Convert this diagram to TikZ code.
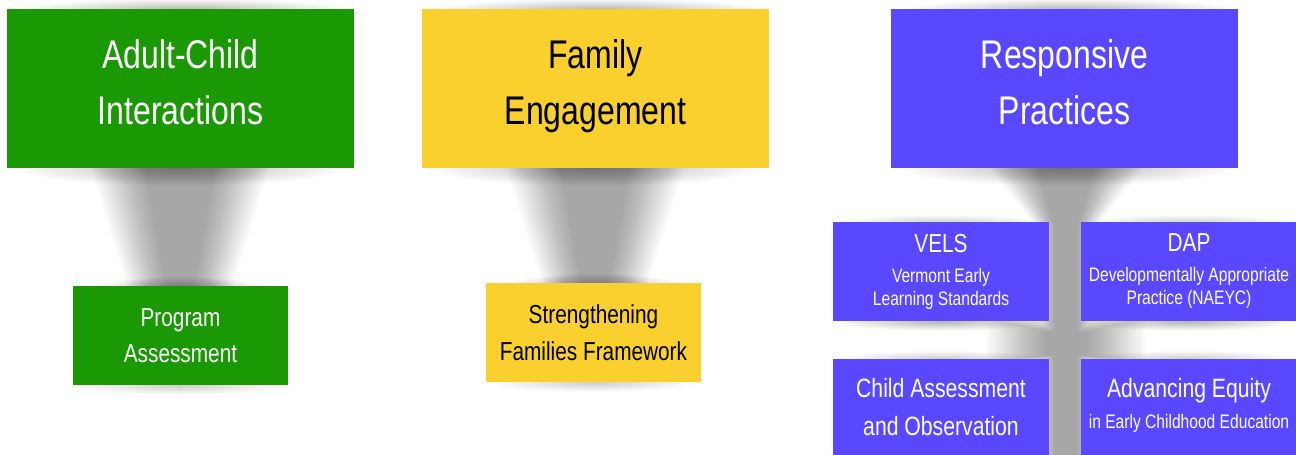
\documentclass[tikz,border=0pt]{standalone}
\usepackage{fontspec}
\newfontfamily\cf{Liberation Sans}[FakeStretch=0.8]
\definecolor{cgreen}{RGB}{26,153,4}
\definecolor{cyellow}{RGB}{249,208,46}
\definecolor{cblue}{RGB}{89,72,255}
% soft elliptical shadow: cx cy rx ry opacity-per-layer
\newcommand\shadell[5]{\foreach \k in {0,...,23}{\fill[black,opacity=#5] (#1,#2) ellipse [x radius={#3*(1-\k/24)*1pt}, y radius={#4*(1-\k/24)*1pt}];}}
% soft funnel: cx ytop ybot halfwidth-top halfwidth-bottom step-top step-bottom
\newcommand\funnel[7]{\foreach \k in {0,...,23}{\fill[black,opacity=0.017] ({#1-#4+\k*#6},#2) -- ({#1+#4-\k*#6},#2) -- ({#1+#5-\k*#7},#3) -- ({#1-#5+\k*#7},#3) -- cycle;}}
\tikzset{
  box/.style={rectangle, inner sep=0pt, align=center},
  bigbox/.style={box, minimum width=347pt, minimum height=159pt, font=\cf\fontsize{40}{56}\selectfont, text depth=12pt},
  smallbox/.style={box, minimum width=215pt, minimum height=99pt, font=\cf\fontsize{26}{36}\selectfont},
  subbox/.style={box, minimum width=216pt, minimum height=99pt, font=\cf\fontsize{19.5}{23}\selectfont},
}
\begin{document}
\begin{tikzpicture}[x=1pt,y=-1pt]
\useasboundingbox (0,0) rectangle (1296,455);
\clip (0,0) rectangle (1296,455);
\fill[white] (0,0) rectangle (1296,455);
% ---------- shadows: green column ----------
\shadell{185}{10}{165}{11}{0.011}
\shadell{180}{168}{165}{18}{0.013}
\funnel{180}{160}{290}{92}{52}{2.4}{1.7}
\shadell{180}{288}{85}{11}{0.013}
\shadell{180}{386}{105}{9}{0.009}
% ---------- shadows: yellow column ----------
\shadell{600}{10}{165}{11}{0.011}
\shadell{595}{168}{165}{18}{0.013}
\funnel{595}{160}{287}{92}{52}{2.4}{1.7}
\shadell{594}{285}{85}{11}{0.013}
\shadell{594}{383}{105}{9}{0.009}
% ---------- shadows: blue column ----------
\shadell{1070}{10}{165}{11}{0.011}
\shadell{1065}{168}{165}{18}{0.013}
\foreach \k in {0,...,23}{\fill[black,opacity=0.017]
  ({1066-84+\k*2.3},160) -- ({1066+84-\k*2.3},160) -- ({1066+30-\k*0.8},226)
  -- ({1066+30-\k*0.8},455) -- ({1066-30+\k*0.8},455) -- ({1066-30+\k*0.8},226) -- cycle
  ({1066-80+\k*2.6},{318+\k*0.6}) -- ({1066+80-\k*2.6},{318+\k*0.6})
  -- ({1066+80-\k*2.6},{362-\k*0.3}) -- ({1066-80+\k*2.6},{362-\k*0.3}) -- cycle;}
\shadell{941}{223}{105}{8}{0.009}
\shadell{1188}{223}{105}{8}{0.009}
\shadell{941}{322}{105}{9}{0.01}
\shadell{1188}{322}{105}{9}{0.01}
\shadell{941}{359}{105}{8}{0.009}
\shadell{1188}{359}{105}{8}{0.009}
% ---------- boxes ----------
\node[bigbox, fill=cgreen, text=white] (ac) at (180.5,88.5) {Adult-Child\\Interactions};
\node[smallbox, fill=cgreen, text=white] (pa) at (180.5,335.5) {Program\\Assessment};
\node[bigbox, fill=cyellow, text=black, text depth=13pt] (fe) at (595.5,88.5) {Family\\Engagement};
\node[smallbox, fill=cyellow, text=black, font=\cf\fontsize{26}{37}\selectfont] (sf) at (593.5,332.5) {Strengthening\\Families Framework};
\node[bigbox, fill=cblue, text=white] (rp) at (1064.5,88.5) {Responsive\\Practices};
\node[subbox, fill=cblue, text=white] (vels) at (941,271.5) {{\fontsize{26}{30}\selectfont VELS}\\[7pt]Vermont Early\\Learning Standards};
\node[subbox, fill=cblue, text=white] (dap) at (1189,271.5) {{\fontsize{26}{30}\selectfont DAP}\\[7pt]Developmentally Appropriate\\Practice (NAEYC)};
\node[subbox, fill=cblue, text=white, font=\cf\fontsize{26.5}{38}\selectfont, text depth=4pt] (ca) at (941,408.5) {Child Assessment\\and Observation};
\node[subbox, fill=cblue, text=white, text depth=11pt] (ae) at (1189,408.5) {{\fontsize{26.5}{30}\selectfont Advancing Equity}\\[8pt]in Early Childhood Education};
\end{tikzpicture}
\end{document}
